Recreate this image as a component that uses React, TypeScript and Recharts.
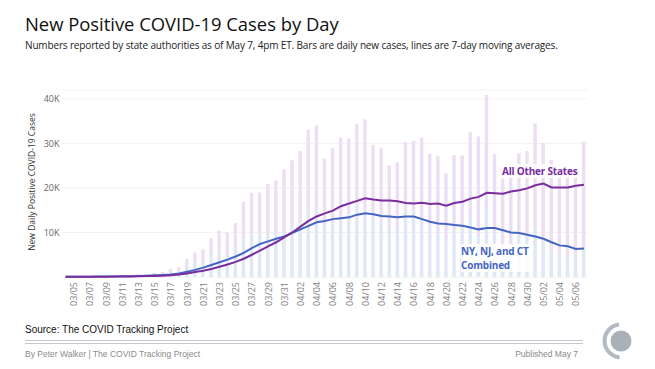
import React from 'react';
import { ComposedChart, Bar, Line, XAxis, YAxis, CartesianGrid } from 'recharts';

const dates = [
  '03/04', '03/05', '03/06', '03/07', '03/08', '03/09', '03/10', '03/11', '03/12', '03/13',
  '03/14', '03/15', '03/16', '03/17', '03/18', '03/19', '03/20', '03/21', '03/22', '03/23',
  '03/24', '03/25', '03/26', '03/27', '03/28', '03/29', '03/30', '03/31', '04/01', '04/02',
  '04/03', '04/04', '04/05', '04/06', '04/07', '04/08', '04/09', '04/10', '04/11', '04/12',
  '04/13', '04/14', '04/15', '04/16', '04/17', '04/18', '04/19', '04/20', '04/21', '04/22',
  '04/23', '04/24', '04/25', '04/26', '04/27', '04/28', '04/29', '04/30', '05/01', '05/02',
  '05/03', '05/04', '05/05', '05/06', '05/07',
];

// daily new cases, thousands
const nyDaily = [
  0.02, 0.03, 0.05, 0.05, 0.06, 0.1, 0.12, 0.15, 0.2, 0.4,
  0.3, 0.5, 0.6, 0.9, 1.3, 2.6, 3.4, 3.5, 5.6, 6.0,
  5.4, 6.5, 8.5, 9.6, 10.0, 9.7, 9.6, 10.5, 11.5, 12.0,
  15.5, 15.6, 11.5, 12.0, 13.8, 14.0, 16.3, 15.3, 13.5, 12.5,
  10.5, 11.0, 15.0, 15.0, 13.0, 11.5, 9.5, 8.0, 10.5, 11.0,
  13.0, 9.0, 15.5, 9.5, 6.5, 7.0, 9.5, 9.5, 11.0, 8.0,
  5.5, 4.8, 4.5, 5.0, 6.5,
];
const otherDaily = [
  0.03, 0.05, 0.05, 0.05, 0.06, 0.1, 0.13, 0.15, 0.2, 0.3,
  0.3, 0.4, 0.5, 0.9, 0.9, 1.5, 2.1, 2.7, 3.1, 4.4,
  4.6, 5.6, 8.4, 9.3, 9.0, 11.2, 12.1, 13.7, 14.7, 16.3,
  17.6, 18.4, 15.1, 17.0, 17.5, 17.1, 18.1, 20.1, 16.2, 16.5,
  14.6, 14.7, 15.3, 15.6, 18.3, 16.2, 17.6, 15.3, 16.9, 16.3,
  19.5, 22.6, 25.4, 18.1, 15.6, 17.0, 18.3, 18.8, 23.5, 22.1,
  20.8, 17.7, 18.3, 18.0, 23.9,
];
// 7-day moving averages, thousands
const nyAvg = [
  0.05, 0.06, 0.07, 0.08, 0.09, 0.1, 0.12, 0.15, 0.18, 0.25,
  0.3, 0.37, 0.45, 0.55, 0.8, 1.2, 1.6, 2.1, 2.7, 3.3,
  3.9, 4.6, 5.4, 6.5, 7.4, 8.0, 8.6, 9.1, 9.9, 10.7,
  11.5, 12.3, 12.6, 13.0, 13.2, 13.4, 14.0, 14.3, 14.1, 13.7,
  13.6, 13.4, 13.6, 13.6, 13.0, 12.4, 12.0, 11.9, 11.7, 11.5,
  11.1, 10.7, 11.0, 11.0, 10.5, 10.0, 9.9, 9.5, 9.1, 8.6,
  7.8, 7.1, 6.9, 6.3, 6.4,
];
const otherAvg = [
  0.05, 0.05, 0.05, 0.06, 0.07, 0.08, 0.1, 0.12, 0.14, 0.18,
  0.2, 0.25, 0.3, 0.4, 0.55, 0.8, 1.1, 1.4, 1.8, 2.3,
  2.8, 3.4, 4.1, 5.0, 5.9, 6.9, 7.8, 8.9, 10.0, 11.3,
  12.6, 13.6, 14.3, 14.9, 15.9, 16.5, 17.1, 17.7, 17.4, 17.2,
  17.2, 17.0, 16.6, 16.5, 16.7, 16.4, 16.5, 16.0, 16.6, 16.9,
  17.6, 18.0, 18.9, 18.8, 18.7, 19.2, 19.5, 19.9, 20.6, 21.0,
  20.1, 20.1, 20.1, 20.5, 20.7,
];
const yTicks = [10, 20, 30, 40];

const data = dates.map((d, i) => ({
  date: d,
  ny: nyDaily[i],
  other: otherDaily[i],
  nyAvg: nyAvg[i],
  otherAvg: otherAvg[i],
}));

const UI = '"Segoe UI", "Open Sans", "Noto Sans", sans-serif';
const ARIAL = '"Liberation Sans", Arial, sans-serif';

const XTick = (props: any) => {
  const { x, y, payload } = props;
  const idx = dates.indexOf(payload.value);
  if (idx % 2 === 0) return <g />;
  return (
    <text
      x={x}
      y={y}
      transform={`rotate(-90 ${x} ${y})`}
      textAnchor="end"
      dominantBaseline="central"
      fontSize={9}
      fill="#808080"
      fontFamily={UI}
    >
      {payload.value}
    </text>
  );
};

export default function App() {
  return (
    <div style={{ position: 'absolute', left: 0, top: 0, width: 655, height: 369, background: '#fff', overflow: 'hidden' }}>
      <div style={{ position: 'absolute', left: 25, top: 11, fontFamily: UI, fontSize: 18.4, color: '#111', whiteSpace: 'nowrap' }}>
        New Positive COVID-19 Cases by Day
      </div>
      <div style={{ position: 'absolute', left: 25, top: 38, fontFamily: UI, fontSize: 10, letterSpacing: -0.15, color: '#222', whiteSpace: 'nowrap' }}>
        Numbers reported by state authorities as of May 7, 4pm ET. Bars are daily new cases, lines are 7-day moving averages.
      </div>
      <div style={{ position: 'absolute', left: 0, top: 0 }}>
        <ComposedChart width={655} height={369} data={data} margin={{ top: 90, right: 67, left: 0, bottom: 51 }}>
          <CartesianGrid vertical={false} stroke="#f2f2f2" />
          <XAxis
            dataKey="date"
            interval={0}
            axisLine={false}
            tickLine={false}
            tickSize={0}
            tickMargin={5}
            height={41}
            tick={<XTick />}
          />
          <YAxis
            domain={[0, 42]}
            ticks={yTicks}
            width={61.5}
            axisLine={false}
            tickLine={false}
            tickSize={0}
            tickMargin={2}
            tickFormatter={(v: number) => `${v}K`}
            tick={{ fontSize: 9, fill: '#666', fontFamily: UI }}
          />
          <Bar dataKey="ny" stackId="a" fill="#e0e7f6" barSize={3.5} isAnimationActive={false} />
          <Bar dataKey="other" stackId="a" fill="#eddff3" barSize={3.5} isAnimationActive={false} />
          <Line type="linear" dataKey="nyAvg" stroke="#4565c3" strokeWidth={2} dot={false} isAnimationActive={false} />
          <Line type="linear" dataKey="otherAvg" stroke="#7b2d9e" strokeWidth={2} dot={false} isAnimationActive={false} />
        </ComposedChart>
      </div>
      <div style={{ position: 'absolute', left: 502, top: 164, fontFamily: UI, fontSize: 10, letterSpacing: -0.2, fontWeight: 700, color: '#7b2d9e', background: 'rgba(255,255,255,0.85)', whiteSpace: 'nowrap', lineHeight: '14px' }}>
        All Other States
      </div>
      <div style={{ position: 'absolute', left: 461, top: 244, fontFamily: UI, fontSize: 10, letterSpacing: -0.2, fontWeight: 700, color: '#4565c3', background: 'rgba(255,255,255,0.85)', whiteSpace: 'nowrap', lineHeight: '14px' }}>
        NY, NJ, and CT<br />Combined
      </div>
      <svg width={655} height={369} style={{ position: 'absolute', left: 0, top: 0, pointerEvents: 'none' }}>
        <text
          x={31}
          y={182}
          transform="rotate(-90 31 182)"
          textAnchor="middle"
          dominantBaseline="central"
          fontSize={8.5}
          fill="#333"
          fontFamily={UI}
        >
          New Daily Positive COVID-19 Cases
        </text>
        <text x={25} y={333} fontSize={10} fill="#111" fontFamily={ARIAL}>Source: The COVID Tracking Project</text>
        <line x1={25} x2={583} y1={340.5} y2={340.5} stroke="#c5cad0" strokeWidth={1} />
        <line x1={25} x2={583} y1={343.5} y2={343.5} stroke="#c5cad0" strokeWidth={1} />
        <text x={25} y={357} fontSize={8.5} fill="#8a8a8a" fontFamily={ARIAL}>By Peter Walker | The COVID Tracking Project</text>
        <text x={578} y={357} fontSize={8.5} fill="#8a8a8a" fontFamily={ARIAL} textAnchor="end">Published May 7</text>
        <circle cx={621} cy={341} r={10.5} fill="#a9b0b8" />
        <path d="M 619 324.6 A 16.5 16.5 0 0 0 619.6 357.4" fill="none" stroke="#b3bac1" strokeWidth={4} />
      </svg>
    </div>
  );
}
